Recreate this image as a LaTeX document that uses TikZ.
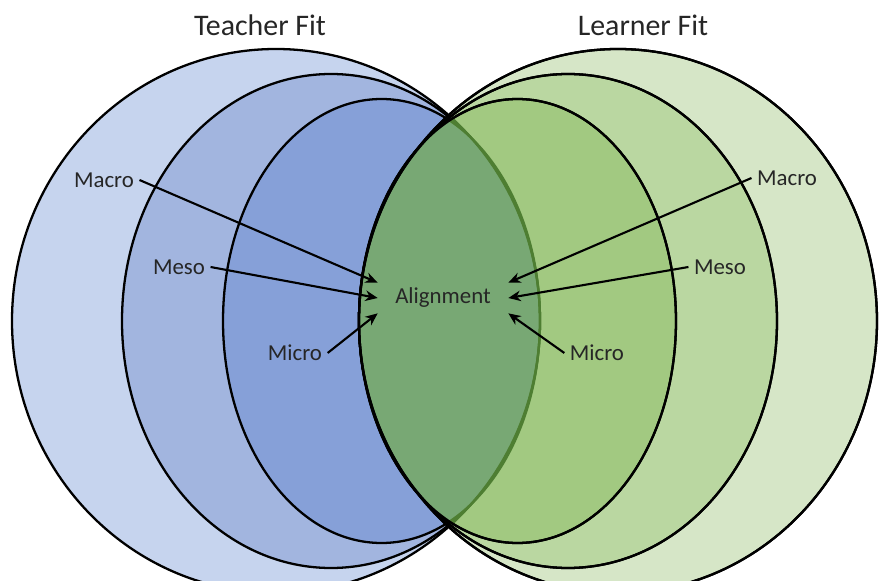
\documentclass[tikz,border=0pt]{standalone}
\usepackage{fontspec}
\setmainfont{Carlito}
\usetikzlibrary{arrows.meta}

\definecolor{teachA}{HTML}{C6D4EE}
\definecolor{teachB}{HTML}{A2B5DF}
\definecolor{teachC}{HTML}{86A0D8}
\definecolor{learnA}{HTML}{D6E6C7}
\definecolor{learnB}{HTML}{BAD7A1}
\definecolor{learnC}{HTML}{A2C981}
\definecolor{overlap}{HTML}{78A874}
\definecolor{overedge}{HTML}{4E7E32}
\definecolor{ink}{HTML}{262626}

\begin{document}
\begin{tikzpicture}[x=0.02cm, y=-0.02cm]
	\tikzset{
		ring/.style={draw=black, line width=1.3pt},
		lbl/.style={font=\fontsize{13}{15}\selectfont, inner sep=3pt, text=ink},
		title/.style={font=\fontsize{17}{20}\selectfont, text=ink},
		arr/.style={-{Stealth[length=7pt, width=6pt]}, line width=1.2pt},
	}
	\useasboundingbox (0,0) rectangle (880,581);
	\clip (0,0) rectangle (880,581);

	% teacher side
	\draw[ring, fill=teachA] (276,321) ellipse [x radius=264, y radius=272];
	\draw[ring, fill=teachB] (331,321) ellipse [x radius=209, y radius=247];
	\draw[ring, fill=teachC] (381.5,321) ellipse [x radius=158.5, y radius=222];

	% learner side
	\draw[ring, fill=learnA] (618,321) ellipse [x radius=259, y radius=272];
	\draw[ring, fill=learnB] (568,321) ellipse [x radius=209, y radius=247];
	\draw[ring, fill=learnC] (517.5,321) ellipse [x radius=158.5, y radius=222];

	% overlap
	\begin{scope}
		\clip (381.5,321) ellipse [x radius=158.5, y radius=222];
		\fill[overlap] (517.5,321) ellipse [x radius=158.5, y radius=222];
	\end{scope}
	\begin{scope}
		\clip (517.5,321) ellipse [x radius=158.5, y radius=222];
		\draw[overedge, line width=1.3pt] (276,321) ellipse [x radius=264, y radius=272];
		\draw[overedge, line width=1.3pt] (331,321) ellipse [x radius=209, y radius=247];
		\draw[overedge, line width=1.3pt] (381.5,321) ellipse [x radius=158.5, y radius=222];
	\end{scope}
	\draw[ring] (618,321) ellipse [x radius=259, y radius=272];
	\draw[ring] (568,321) ellipse [x radius=209, y radius=247];
	\draw[ring] (517.5,321) ellipse [x radius=158.5, y radius=222];

	\node[title] (teacher) at (260,25) {Teacher Fit};
	\node[title] (learner) at (643,25) {Learner Fit};

	\node[lbl, inner sep=0pt, minimum width=2.6cm, minimum height=0.6cm] (align) at (443,298) {Alignment};

	\node[lbl] (tmacro) at (104,180) {Macro};
	\node[lbl] (tmeso) at (179,267) {Meso};
	\node[lbl] (tmicro) at (295,353) {Micro};
	\node[lbl] (lmacro) at (787,178) {Macro};
	\node[lbl] (lmeso) at (720,267) {Meso};
	\node[lbl] (lmicro) at (597,353) {Micro};

	\draw[arr] (tmacro.east) -- (align.north west);
	\draw[arr] (tmeso.east) -- (align.west);
	\draw[arr] (tmicro.east) -- (align.south west);
	\draw[arr] (lmacro.west) -- (align.north east);
	\draw[arr] (lmeso.west) -- (align.east);
	\draw[arr] (lmicro.west) -- (align.south east);
\end{tikzpicture}
\end{document}
